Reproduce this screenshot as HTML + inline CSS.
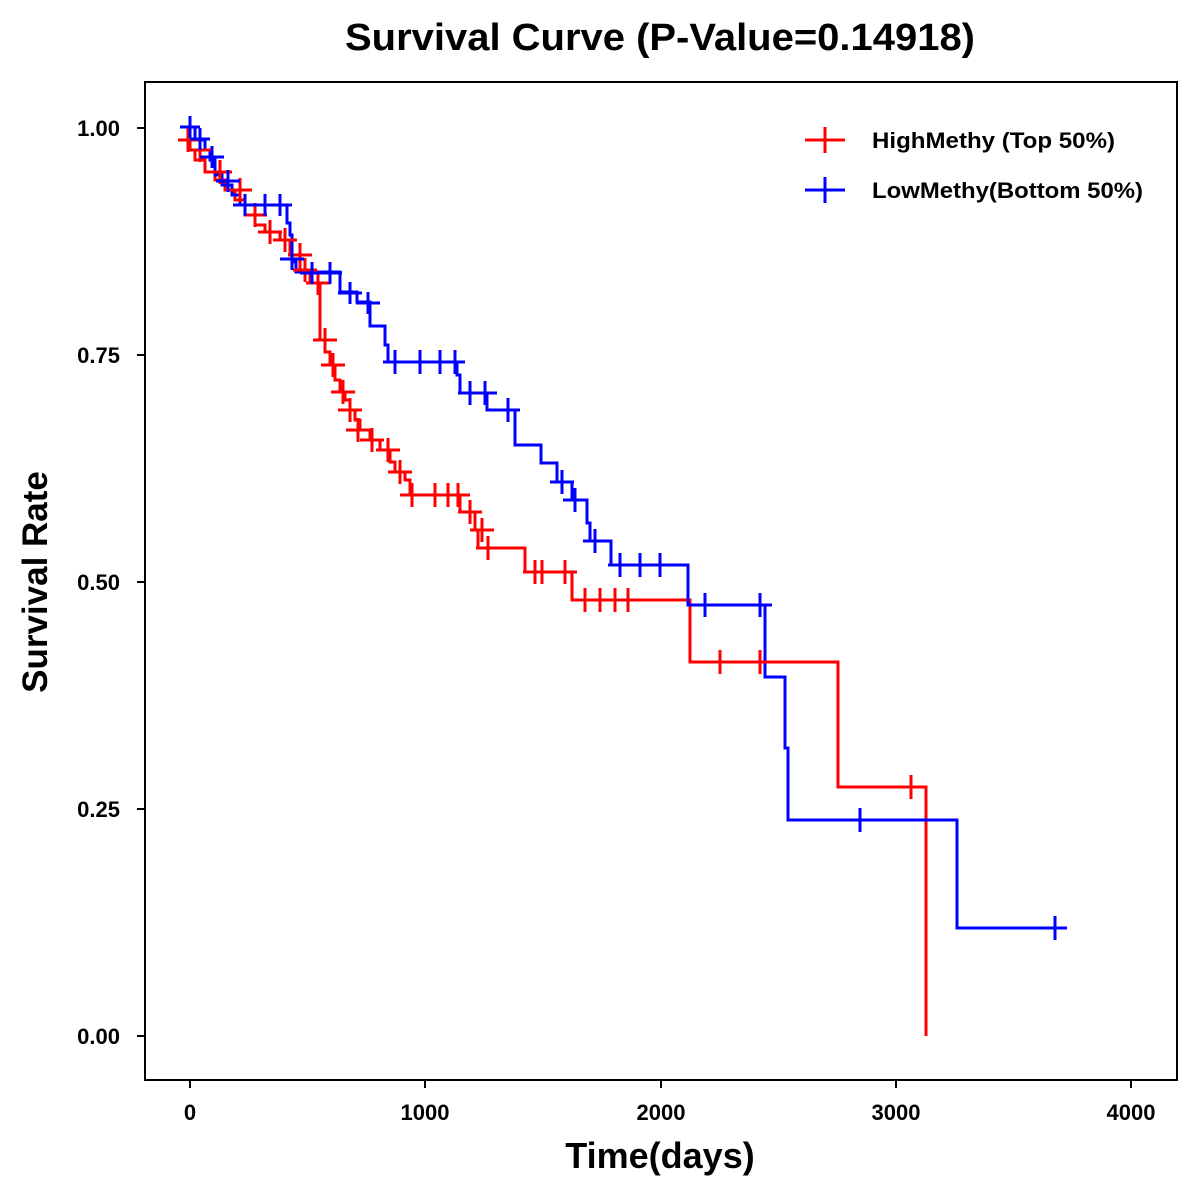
<!DOCTYPE html>
<html><head><style>body{margin:0;background:#fff}svg{display:block}</style></head><body>
<svg width="1200" height="1200" xmlns="http://www.w3.org/2000/svg" font-family="Liberation Sans, Arial, sans-serif" font-weight="bold">
<rect width="1200" height="1200" fill="#fff"/>
<text x="660" y="50" font-size="38" text-anchor="middle" textLength="630" lengthAdjust="spacingAndGlyphs">Survival Curve (P-Value=0.14918)</text>
<rect x="145" y="82" width="1032" height="998" fill="none" stroke="#000" stroke-width="2"/>
<g stroke="#000" stroke-width="2">
<line x1="190" y1="1080" x2="190" y2="1088"/><line x1="425" y1="1080" x2="425" y2="1088"/><line x1="661" y1="1080" x2="661" y2="1088"/><line x1="896" y1="1080" x2="896" y2="1088"/><line x1="1131" y1="1080" x2="1131" y2="1088"/>
<line x1="137" y1="128" x2="145" y2="128"/><line x1="137" y1="355" x2="145" y2="355"/><line x1="137" y1="582" x2="145" y2="582"/><line x1="137" y1="809" x2="145" y2="809"/><line x1="137" y1="1036" x2="145" y2="1036"/>
</g>
<g font-size="22" text-anchor="middle">
<text x="190" y="1120">0</text><text x="425" y="1120">1000</text><text x="661" y="1120">2000</text><text x="896" y="1120">3000</text><text x="1131" y="1120">4000</text>
</g>
<g font-size="22" text-anchor="end">
<text x="120" y="136">1.00</text><text x="120" y="363">0.75</text><text x="120" y="590">0.50</text><text x="120" y="817">0.25</text><text x="120" y="1044">0.00</text>
</g>
<text x="660" y="1168" font-size="36" text-anchor="middle">Time(days)</text>
<text transform="translate(47,582) rotate(-90)" font-size="35" text-anchor="middle">Survival Rate</text>

<g fill="none" stroke-width="3">
<path stroke="#f00" d="M182,140 H190 V150 H195 V160 H205 V172 H215 V180 H225 V190 H235 V200 H245 V215 H255 V225 H265 V232 H280 V240 H290 V255 H300 V270 H310 V283 H320 V295 V340 H325 V352 H330 V365 H335 V380 H340 V392 H345 V400 H350 V410 H355 V420 H360 V430 H370 V440 H380 V450 H390 V462 H395 V472 H405 V480 H410 V495 H460 V512 H475 V530 H478 V548 H525 V572 H572 V600 H690 V662 H838 V787 H926 V1036"/>
<path stroke="#00f" d="M180,127 H195 V140 H205 V150 H210 V160 H215 V175 H222 V185 H232 V195 H240 V205 H287 V223 H290 V235 H292 V262 H296 V272 H340 V292 H357 V302 H370 V326 H385 V345 H388 V362 H457 V375 H460 V393 H487 V410 H515 V445 H541 V463 H557 V482 H572 V500 H587 V523 H590 V541 H611 V565 H688 V605 H765 V677 H785 V748 H788 V820 H957 V928 H1065"/>
</g>
<g stroke="#f00" stroke-width="3">
<path d="M188,152v-24M178,140h22 M200,162v-24M190,150h22 M220,184v-24M210,172h22 M240,202v-24M230,190h22 M255,227v-24M245,215h22 M270,244v-24M258,232h24 M285,252v-24M273,240h24 M300,267v-24M288,255h24 M305,282v-24M293,270h24 M318,295v-24M306,283h24 M325,352v-24M313,340h24 M333,377v-24M321,365h24 M343,404v-24M331,392h24 M350,422v-24M338,410h24 M358,442v-24M346,430h24 M372,452v-24M360,440h24 M388,462v-24M376,450h24 M400,484v-24M388,472h24 M412,507v-24M400,495h24 M435,507v-24M423,495h24 M448,507v-24M436,495h24 M458,507v-24M446,495h24 M470,524v-24M458,512h24 M482,542v-24M470,530h24 M488,560v-24M476,548h24 M535,584v-24M523,572h24 M542,584v-24M530,572h24 M565,584v-24M553,572h24 M585,612v-24M573,600h24 M600,612v-24M588,600h24 M615,612v-24M603,600h24 M628,612v-24M616,600h24 M720,674v-24M708,662h24 M760,674v-24M748,662h24 M911,799v-24M899,787h24"/>
<path d="M825,153v-26M805,140h40"/>
</g>
<g stroke="#00f" stroke-width="3">
<path d="M190,138v-22M180,127h20 M200,150v-22M190,139h20 M212,168v-22M200,157h24 M228,192v-22M216,181h24 M245,216v-22M233,205h24 M265,216v-22M253,205h24 M280,216v-22M268,205h24 M292,270v-22M280,259h24 M312,284v-22M300,273h24 M330,284v-22M318,273h24 M350,304v-22M338,293h24 M368,314v-22M356,303h24 M395,374v-24M383,362h24 M420,374v-24M408,362h24 M440,374v-24M428,362h24 M455,374v-24M445,362h20 M470,405v-24M458,393h24 M485,405v-24M473,393h24 M508,422v-24M496,410h24 M562,494v-24M550,482h24 M575,512v-24M563,500h24 M595,553v-24M583,541h24 M620,577v-24M608,565h24 M640,577v-24M628,565h24 M660,577v-24M648,565h24 M705,617v-24M693,605h24 M760,617v-24M748,605h24 M860,832v-24M848,820h24 M1055,940v-24M1043,928h24"/>
<path d="M825,203v-26M805,190h40"/>
</g>
<text x="872" y="148" font-size="22" textLength="243" lengthAdjust="spacingAndGlyphs">HighMethy (Top 50%)</text>
<text x="872" y="198" font-size="22" textLength="271" lengthAdjust="spacingAndGlyphs">LowMethy(Bottom 50%)</text>
</svg>
</body></html>
